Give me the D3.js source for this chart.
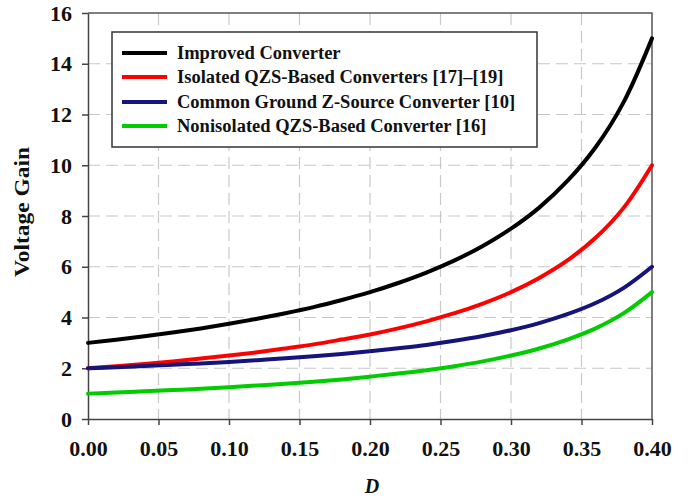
<!DOCTYPE html>
<html><head><meta charset="utf-8">
<script src="https://cdn.jsdelivr.net/npm/d3@7"></script>
<style>body{margin:0;background:#fff;} svg{display:block;}</style>
</head><body>
<svg id="chart" width="690" height="501"></svg>
<script>
const dValues = [0,0.02,0.04,0.06,0.08,0.10,0.12,0.14,0.16,0.18,0.20,0.22,0.24,0.26,0.28,0.30,0.32,0.34,0.36,0.38,0.40];
const improved = [3,3.125,3.26,3.41,3.57,3.75,3.95,4.17,4.41,4.69,5.0,5.36,5.77,6.25,6.82,7.5,8.33,9.38,10.71,12.5,15];
const isolatedQZS = [2,2.08,2.17,2.27,2.38,2.5,2.63,2.78,2.94,3.13,3.33,3.57,3.85,4.17,4.55,5.0,5.56,6.25,7.14,8.33,10];
const commonGround = [2,2.04,2.09,2.14,2.19,2.25,2.32,2.39,2.47,2.56,2.67,2.79,2.92,3.08,3.27,3.5,3.78,4.13,4.57,5.17,6];
const nonisolatedQZS = [1,1.04,1.09,1.14,1.19,1.25,1.32,1.39,1.47,1.56,1.67,1.79,1.92,2.08,2.27,2.5,2.78,3.13,3.57,4.17,5];
const seriesNames = ["Improved Converter","Isolated QZS-Based Converters [17]\u2013[19]","Common Ground Z-Source Converter [10]","Nonisolated QZS-Based Converter [16]"];
const seriesColors = ["#000000","#ff0000","#14147a","#00cc00"];
const xTicks = [0,0.05,0.10,0.15,0.20,0.25,0.30,0.35,0.40];
const yTicks = [0,2,4,6,8,10,12,14,16];

const series = [improved, isolatedQZS, commonGround, nonisolatedQZS];
const svg = d3.select("#chart");
const L=88, R=652, T=13, B=419;
const x = d3.scaleLinear().domain([0,0.4]).range([L,R]);
const y = d3.scaleLinear().domain([0,16]).range([B,T]);
const font = "'Liberation Serif','Times New Roman',serif";

// grid
const g = svg.append("g");
g.selectAll(".vg").data(xTicks.slice(1,-1)).enter().append("line")
 .attr("x1",d=>x(d)).attr("x2",d=>x(d)).attr("y1",T).attr("y2",B)
 .attr("stroke","#c8c8c8").attr("stroke-width",1.2).attr("stroke-dasharray","12,6");
g.selectAll(".hg").data(yTicks.slice(1,-1)).enter().append("line")
 .attr("y1",d=>y(d)).attr("y2",d=>y(d)).attr("x1",L).attr("x2",R)
 .attr("stroke","#c8c8c8").attr("stroke-width",1.2).attr("stroke-dasharray","12,6");
// frame top/right
svg.append("path").attr("d",`M${L},${T}H${R}V${B}`).attr("fill","none").attr("stroke","#555").attr("stroke-width",1.5);

// axes
const xAxis = d3.axisBottom(x).tickValues(xTicks).tickFormat(d3.format(".2f")).tickSizeInner(6).tickSizeOuter(0).tickPadding(15);
const yAxis = d3.axisLeft(y).tickValues(yTicks).tickFormat(d3.format("d")).tickSizeInner(6).tickSizeOuter(0).tickPadding(10);
const xa = svg.append("g").attr("transform",`translate(0,${B})`).call(xAxis);
const ya = svg.append("g").attr("transform",`translate(${L},0)`).call(yAxis);
[xa,ya].forEach(a=>{
  a.select(".domain").attr("stroke","#444").attr("stroke-width",1.5);
  a.selectAll(".tick line").attr("stroke","#444").attr("stroke-width",1.5);
  a.selectAll("text").attr("font-family",font).attr("font-weight","bold").attr("font-size",22).attr("fill","#111");
});

// lines
const line = d3.line().x((d,i)=>x(dValues[i])).y(d=>y(d)).curve(d3.curveCatmullRom);
series.forEach((s,i)=>{
  svg.append("path").datum(s).attr("d",line).attr("fill","none")
   .attr("stroke",seriesColors[i]).attr("stroke-width",4).attr("stroke-linecap","round");
});

// axis titles
svg.append("text").attr("transform","translate(29,212) rotate(-90)").attr("text-anchor","middle")
 .attr("font-family",font).attr("font-weight","bold").attr("font-size",21).attr("fill","#111")
 .attr("textLength",130).attr("lengthAdjust","spacingAndGlyphs").text("Voltage Gain");
svg.append("text").attr("x",372).attr("y",493).attr("text-anchor","middle")
 .attr("font-family",font).attr("font-weight","bold").attr("font-style","italic").attr("font-size",20).attr("fill","#111").text("D");

// legend
const lg = svg.append("g");
lg.append("rect").attr("x",112).attr("y",32).attr("width",425).attr("height",115)
 .attr("fill","#fff").attr("stroke","#333").attr("stroke-width",1.5);
const ly = [53,77,102,126];
seriesNames.forEach((n,i)=>{
  lg.append("line").attr("x1",122).attr("x2",167).attr("y1",ly[i]).attr("y2",ly[i])
   .attr("stroke",seriesColors[i]).attr("stroke-width",4);
  lg.append("text").attr("x",177).attr("y",ly[i]).attr("dy","0.35em")
   .attr("font-family",font).attr("font-weight","bold").attr("font-size",18.5).attr("fill","#111").text(n);
});
</script>
</body></html>
